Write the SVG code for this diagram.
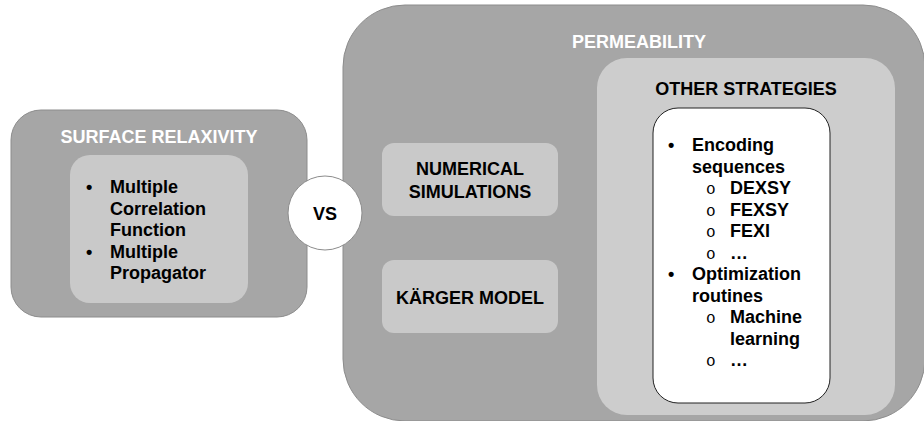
<svg xmlns="http://www.w3.org/2000/svg" width="924" height="421" viewBox="0 0 924 421">
<style>
.outer{fill:#a6a6a6;stroke:#8c8c8c;stroke-width:1}
.inner{fill:#c9c9c9}
.t{font-family:"Liberation Sans",Arial,sans-serif;font-weight:bold;font-size:18px}
.w{fill:#ffffff}
.k{fill:#000000}
.m{font-family:"Liberation Mono","Courier New",monospace;font-weight:normal;font-size:16px}
</style>
<rect width="924" height="421" fill="#ffffff"/>
<g id="surface-relaxivity">
<rect class="outer" x="11" y="110" width="296" height="207" rx="30"/>
<text class="t w" x="159" y="143" text-anchor="middle">SURFACE RELAXIVITY</text>
<rect class="inner" x="70" y="155" width="178" height="148" rx="20"/>
<text class="t k"><tspan x="86" y="193">•</tspan><tspan x="110" y="193">Multiple</tspan><tspan x="110" y="214.5">Correlation</tspan><tspan x="110" y="236">Function</tspan><tspan x="86" y="257.5">•</tspan><tspan x="110" y="257.5">Multiple</tspan><tspan x="110" y="279">Propagator</tspan></text>
</g>
<g id="permeability">
<rect class="outer" x="343" y="5" width="582" height="416" rx="62"/>
<text class="t w" x="639" y="48" text-anchor="middle">PERMEABILITY</text>
</g>
<g id="numerical-simulations">
<rect class="inner" x="382" y="143" width="176" height="73" rx="12"/>
<text class="t k" text-anchor="middle"><tspan x="470" y="175">NUMERICAL</tspan><tspan x="470" y="198">SIMULATIONS</tspan></text>
</g>
<g id="karger-model">
<rect class="inner" x="382" y="260" width="176" height="73" rx="12"/>
<text class="t k" x="470" y="304" text-anchor="middle">KÄRGER MODEL</text>
</g>
<g id="other-strategies">
<rect x="597" y="58" width="298" height="357" rx="30" fill="#cdcdcd"/>
<text class="t k" x="746" y="95" text-anchor="middle">OTHER STRATEGIES</text>
<rect x="653" y="108" width="177" height="295" rx="25" fill="#ffffff" stroke="#222222" stroke-width="1"/>
<text class="t k"><tspan x="668" y="151">•</tspan><tspan x="692" y="151">Encoding</tspan><tspan x="692" y="172.5">sequences</tspan><tspan x="730" y="194">DEXSY</tspan><tspan x="730" y="215.5">FEXSY</tspan><tspan x="730" y="237">FEXI</tspan><tspan x="730" y="258.5">…</tspan><tspan x="668" y="280">•</tspan><tspan x="692" y="280">Optimization</tspan><tspan x="692" y="301.5">routines</tspan><tspan x="730" y="323">Machine</tspan><tspan x="730" y="344.5">learning</tspan><tspan x="730" y="366">…</tspan></text>
<text class="m k"><tspan x="706" y="194">o</tspan><tspan x="706" y="215.5">o</tspan><tspan x="706" y="237">o</tspan><tspan x="706" y="258.5">o</tspan><tspan x="706" y="323">o</tspan><tspan x="706" y="366">o</tspan></text>
</g>
<g id="vs">
<circle cx="325" cy="213" r="37" fill="#ffffff" stroke="#8c8c8c" stroke-width="1"/>
<text class="t k" x="325" y="220" text-anchor="middle">VS</text>
</g>
<g id="connectors"></g>
</svg>
